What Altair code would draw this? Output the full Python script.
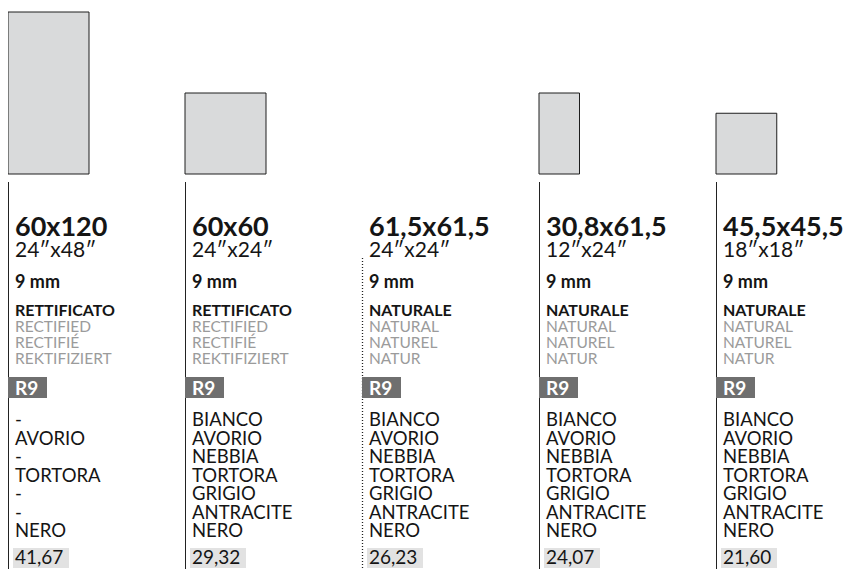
import altair as alt
import pandas as pd

# ---------------- data ----------------
sizes = ["60x120", "60x60", "61,5x61,5", "30,8x61,5", "45,5x45,5"]
inches = ["24″x48″", "24″x24″", "24″x24″", "12″x24″", "18″x18″"]
thickness = ["9 mm", "9 mm", "9 mm", "9 mm", "9 mm"]
finish_it = ["RETTIFICATO", "RETTIFICATO", "NATURALE", "NATURALE", "NATURALE"]
finish_en = ["RECTIFIED", "RECTIFIED", "NATURAL", "NATURAL", "NATURAL"]
finish_fr = ["RECTIFIÉ", "RECTIFIÉ", "NATUREL", "NATUREL", "NATUREL"]
finish_de = ["REKTIFIZIERT", "REKTIFIZIERT", "NATUR", "NATUR", "NATUR"]
slip = ["R9", "R9", "R9", "R9", "R9"]
full_range = ["BIANCO", "AVORIO", "NEBBIA", "TORTORA", "GRIGIO", "ANTRACITE", "NERO"]
colours = [
    ["-", "AVORIO", "-", "TORTORA", "-", "-", "NERO"],
    full_range,
    full_range,
    full_range,
    full_range,
]
prices = ["41,67", "29,32", "26,23", "24,07", "21,60"]
# drawn tile proportions (cm), none drawn for the 61,5x61,5 column
tile_w = [60, 60, None, 30, 45]
tile_h = [120, 60, None, 60, 45]

# ---------------- layout ----------------
W, H = 836, 561
PX_CM = 1.35
col_x = [8 + 177 * i for i in range(5)]
TILE_BASE = 174
dotted_col = 2
TXT = 7

xs = alt.Scale(domain=[8, 8 + W], nice=False, zero=False)
ys = alt.Scale(domain=[8 + H, 8], nice=False, zero=False)


def X(f):
    return alt.X(f, type="quantitative", scale=xs, axis=None)


def Y(f):
    return alt.Y(f, type="quantitative", scale=ys, axis=None)


# tiles
tiles = pd.DataFrame([
    {"x": c, "x2": c + w * PX_CM, "y": TILE_BASE - h * PX_CM, "y2": TILE_BASE}
    for c, w, h in zip(col_x, tile_w, tile_h) if w is not None
])
tile_layer = alt.Chart(tiles).mark_rect(
    fill="#d9dadb", stroke="#1e1e1e", strokeWidth=1
).encode(x=X("x"), x2="x2", y=Y("y"), y2="y2")

# vertical rules
rules = pd.DataFrame([
    {"x": c + 0.5, "y": (258 if i == dotted_col else 182), "y2": 8 + H, "dotted": i == dotted_col}
    for i, c in enumerate(col_x)
])
solid_layer = alt.Chart(rules).transform_filter("!datum.dotted").mark_rule(
    color="#222", strokeWidth=1
).encode(x=X("x"), y=Y("y"), y2="y2")
dotted_layer = alt.Chart(rules).transform_filter("datum.dotted").mark_rule(
    color="#222", strokeWidth=1.3, strokeDash=[1, 2]
).encode(x=X("x"), y=Y("y"), y2="y2")

# badge + price boxes
badges = pd.DataFrame([{"x": c, "x2": c + 39, "y": 377, "y2": 398} for c in col_x])
badge_layer = alt.Chart(badges).mark_rect(fill="#6f6f6f").encode(
    x=X("x"), x2="x2", y=Y("y"), y2="y2")
pboxes = pd.DataFrame([{"x": c + 5, "x2": c + 61, "y": 548, "y2": 568} for c in col_x])
pbox_layer = alt.Chart(pboxes).mark_rect(fill="#e2e2e2").encode(
    x=X("x"), x2="x2", y=Y("y"), y2="y2")


def text_layer(values, y, size, weight, color, dx=TXT):
    df = pd.DataFrame({"x": [c + dx for c in col_x], "y": [y] * len(values), "t": values})
    return alt.Chart(df).mark_text(
        align="left", baseline="alphabetic", font="Lato", fontSize=size,
        fontWeight=weight, color=color
    ).encode(x=X("x"), y=Y("y"), text="t:N")


BLACK = "#151515"
GREY = "#9b9b9b"
layers = [
    tile_layer, solid_layer, dotted_layer, badge_layer, pbox_layer,
    text_layer(sizes, 236, 27, "bold", BLACK),
    text_layer(inches, 257, 21, "normal", BLACK),
    text_layer(thickness, 288, 18, "bold", BLACK),
    text_layer(finish_it, 316, 16, "bold", BLACK),
    text_layer(finish_en, 332, 15.5, "normal", GREY),
    text_layer(finish_fr, 348, 15.5, "normal", GREY),
    text_layer(finish_de, 363.5, 15.5, "normal", GREY),
    text_layer(slip, 395, 19, "bold", "#ffffff"),
]

col_rows = []
for c, lst in zip(col_x, colours):
    for k, name in enumerate(lst):
        col_rows.append({"x": c + TXT, "y": 426 + 18.5 * k, "t": name})
colour_layer = alt.Chart(pd.DataFrame(col_rows)).mark_text(
    align="left", baseline="alphabetic", font="Lato", fontSize=18.5,
    fontWeight="normal", color=BLACK
).encode(x=X("x"), y=Y("y"), text="t:N")
layers.append(colour_layer)
layers.append(text_layer(prices, 564, 19, "normal", BLACK))

chart = alt.layer(*layers).properties(
    width=W, height=H, padding=0, autosize=alt.AutoSizeParams(type="none")
).configure_view(strokeWidth=0)

chart.save("out.html", embed_options={"renderer": "svg", "actions": False})
